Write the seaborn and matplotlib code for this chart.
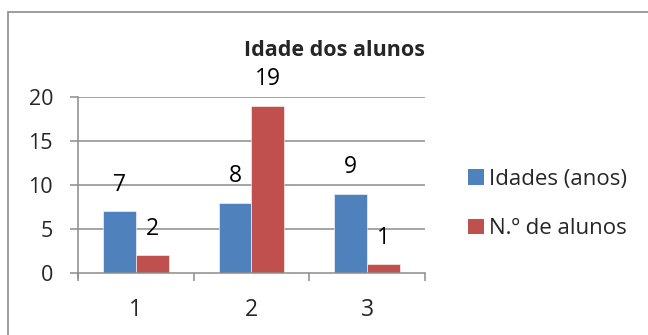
import matplotlib
matplotlib.use("Agg")
import matplotlib.pyplot as plt
import seaborn as sns
import pandas as pd
from matplotlib.patches import Rectangle, Patch

categories = ["1", "2", "3"]
idades = [7, 8, 9]
n_alunos = [2, 19, 1]
series_names = ["Idades (anos)", "N.º de alunos"]
title = "Idade dos alunos"
yticks = [0, 5, 10, 15, 20]

colors = ["#4F81BD", "#C0504D"]
FONT = "Open Sans"

df = pd.DataFrame({
    "cat": categories * 2,
    "val": idades + n_alunos,
    "serie": [series_names[0]] * 3 + [series_names[1]] * 3,
})

sns.set_theme(style="white")
plt.rcParams["font.family"] = [FONT, "DejaVu Sans"]

W, H = 648, 335
fig = plt.figure(figsize=(W / 100, H / 100), dpi=100)
fig.patch.set_facecolor("white")

# chart frame
fig.patches.append(Rectangle((8 / W, -0.1), 1.0, (H - 12) / H + 0.1,
                             transform=fig.transFigure, fill=False,
                             edgecolor="#8C8C8C", linewidth=1.2))

left, right, y0, y20 = 78, 425, 273, 97
ax = fig.add_axes([left / W, (H - y0) / H, (right - left) / W, (y0 - y20) / H])

sns.barplot(data=df, x="cat", y="val", hue="serie", palette=colors,
            width=0.57, gap=0, saturation=1, ax=ax, legend=False,
            edgecolor="white", linewidth=0.4)

ax.set_xlim(-0.5, 2.5)
ax.set_ylim(0, 20)
ax.set_yticks(yticks)
ax.set_yticklabels([str(v) for v in yticks])
ax.set_xlabel("")
ax.set_ylabel("")

grid_c = "#8C8C8C"
for v in yticks[1:]:
    ax.axhline(v, color=grid_c, lw=1.1, zorder=0)
ax.set_axisbelow(True)

for s in ["top", "right"]:
    ax.spines[s].set_visible(False)
for s in ["left", "bottom"]:
    ax.spines[s].set_color(grid_c)
    ax.spines[s].set_linewidth(1.1)
ax.spines["left"].set_bounds(-0.6, 20)

ax.tick_params(axis="y", direction="out", length=6, width=1.1, color=grid_c,
               pad=12, labelsize=15.5, left=True)
ax.set_xticks([-0.5, 0.5, 1.5, 2.5], minor=True)
ax.tick_params(axis="x", which="minor", direction="out", length=6, width=1.1,
               color=grid_c, bottom=True)
ax.tick_params(axis="x", which="major", length=0, pad=18, labelsize=16.5)

# data labels
for cont in ax.containers:
    for bar in cont:
        h = bar.get_height()
        ax.annotate(f"{h:g}", (bar.get_x() + bar.get_width() / 2, h),
                    xytext=(0, 19), textcoords="offset points",
                    ha="center", va="center", fontsize=16.5, color="black",
                    annotation_clip=False)

fig.text(335 / W, (H - 50) / H, title, ha="center", va="center",
         fontsize=15.5, fontweight="bold")

handles = [Patch(facecolor=c, edgecolor="none") for c in colors]
fig.legend(handles, series_names, loc="center left",
           bbox_to_anchor=(448 / W, (H - 204) / H), frameon=False,
           fontsize=16, handlelength=0.7, handleheight=0.7,
           handletextpad=0.25, labelspacing=1.3)

fig.savefig("out.png", dpi=100)
